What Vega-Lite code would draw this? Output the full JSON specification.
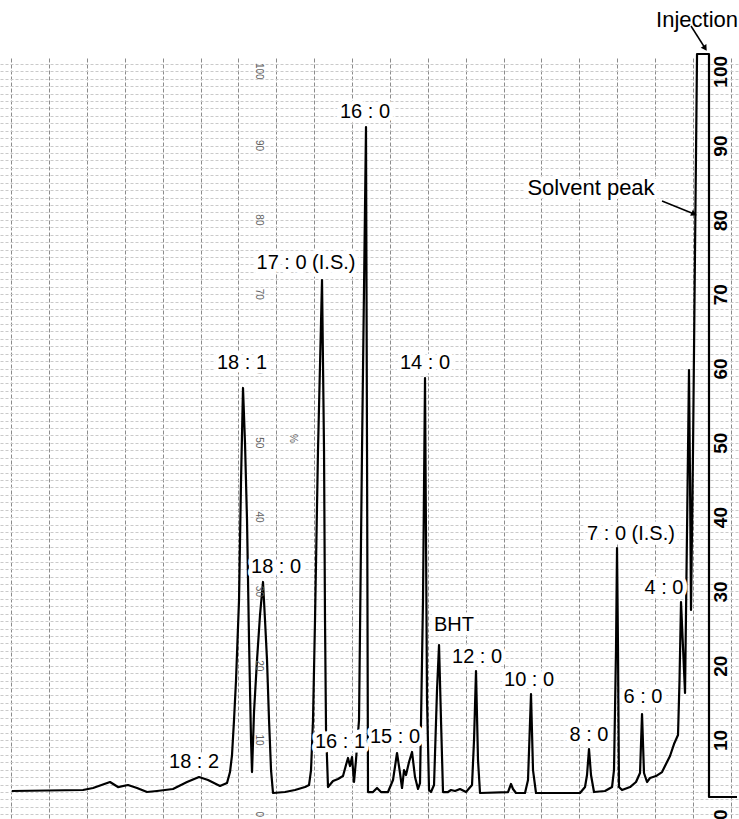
{
  "$schema": "https://vega.github.io/schema/vega-lite/v6.json",
  "width": 739,
  "height": 761,
  "autosize": {"type": "none"},
  "padding": {"top": 58, "left": 0, "right": 0, "bottom": 0},
  "background": "white",
  "config": {"view": {"stroke": null}, "font": "Liberation Sans"},
  "datasets": {
    "trace": [
      {"i":1,"t":17.978,"v":3.14},{"i":2,"t":16.104,"v":3.27},{"i":3,"t":15.839,"v":3.54},{"i":4,"t":15.391,"v":4.35},
      {"i":5,"t":15.18,"v":3.67},{"i":6,"t":14.916,"v":3.94},{"i":7,"t":14.678,"v":3.54},{"i":8,"t":14.414,"v":3.0},
      {"i":9,"t":14.15,"v":3.14},{"i":10,"t":13.728,"v":3.41},{"i":11,"t":13.358,"v":4.35},{"i":12,"t":13.041,"v":5.02},
      {"i":13,"t":12.804,"v":4.62},{"i":14,"t":12.487,"v":3.81},{"i":15,"t":12.302,"v":4.21},{"i":16,"t":12.223,"v":5.69},
      {"i":17,"t":12.17,"v":7.98},{"i":18,"t":12.117,"v":12.69},{"i":19,"t":12.064,"v":18.08},{"i":20,"t":11.985,"v":28.84},
      {"i":21,"t":11.932,"v":44.99},{"i":22,"t":11.88,"v":57.38},{"i":23,"t":11.827,"v":49.97},{"i":24,"t":11.774,"v":39.61},
      {"i":25,"t":11.721,"v":23.46},{"i":26,"t":11.668,"v":10.0},{"i":27,"t":11.642,"v":5.69},{"i":28,"t":11.589,"v":13.77},
      {"i":29,"t":11.51,"v":20.77},{"i":30,"t":11.431,"v":26.82},{"i":31,"t":11.352,"v":31.27},{"i":32,"t":11.299,"v":26.15},
      {"i":33,"t":11.246,"v":20.77},{"i":34,"t":11.193,"v":12.69},{"i":35,"t":11.14,"v":5.96},{"i":36,"t":11.088,"v":2.87},
      {"i":37,"t":10.771,"v":3.0},{"i":38,"t":10.507,"v":3.27},{"i":39,"t":10.243,"v":3.67},{"i":40,"t":10.137,"v":3.94},
      {"i":41,"t":10.084,"v":5.96},{"i":42,"t":10.032,"v":12.69},{"i":43,"t":9.979,"v":26.15},{"i":44,"t":9.9,"v":49.03},
      {"i":45,"t":9.794,"v":71.91},{"i":46,"t":9.741,"v":49.03},{"i":47,"t":9.715,"v":26.15},{"i":48,"t":9.688,"v":11.35},
      {"i":49,"t":9.636,"v":3.67},{"i":50,"t":9.504,"v":4.48},{"i":51,"t":9.372,"v":4.75},{"i":52,"t":9.24,"v":5.15},
      {"i":53,"t":9.161,"v":6.64},{"i":54,"t":9.108,"v":7.58},{"i":55,"t":9.055,"v":6.5},{"i":56,"t":9.002,"v":7.71},
      {"i":57,"t":8.949,"v":4.35},{"i":58,"t":8.897,"v":7.31},{"i":59,"t":8.817,"v":12.69},{"i":60,"t":8.738,"v":49.03},
      {"i":61,"t":8.633,"v":92.5},{"i":62,"t":8.606,"v":49.03},{"i":63,"t":8.58,"v":3.0},{"i":64,"t":8.448,"v":3.0},
      {"i":65,"t":8.342,"v":3.54},{"i":66,"t":8.237,"v":3.0},{"i":67,"t":8.052,"v":3.0},{"i":68,"t":7.92,"v":4.62},
      {"i":69,"t":7.814,"v":8.25},{"i":70,"t":7.735,"v":5.56},{"i":71,"t":7.682,"v":3.54},{"i":72,"t":7.629,"v":5.96},
      {"i":73,"t":7.577,"v":5.29},{"i":74,"t":7.497,"v":7.04},{"i":75,"t":7.418,"v":8.39},{"i":76,"t":7.339,"v":5.02},
      {"i":77,"t":7.26,"v":3.41},{"i":78,"t":7.207,"v":4.21},{"i":79,"t":7.128,"v":28.84},{"i":80,"t":7.075,"v":58.72},
      {"i":81,"t":7.022,"v":15.38},{"i":82,"t":6.969,"v":3.27},{"i":83,"t":6.917,"v":3.0},{"i":84,"t":6.837,"v":3.94},
      {"i":85,"t":6.758,"v":16.73},{"i":86,"t":6.705,"v":22.79},{"i":87,"t":6.653,"v":12.69},{"i":88,"t":6.6,"v":3.0},
      {"i":89,"t":6.468,"v":3.0},{"i":90,"t":6.389,"v":3.27},{"i":91,"t":6.283,"v":3.14},{"i":92,"t":6.151,"v":3.41},
      {"i":93,"t":5.993,"v":3.0},{"i":94,"t":5.834,"v":3.94},{"i":95,"t":5.781,"v":10.0},{"i":96,"t":5.729,"v":19.29},
      {"i":97,"t":5.676,"v":7.31},{"i":98,"t":5.623,"v":2.87},{"i":99,"t":4.884,"v":3.0},{"i":100,"t":4.805,"v":4.08},
      {"i":101,"t":4.752,"v":3.41},{"i":102,"t":4.673,"v":2.87},{"i":103,"t":4.435,"v":2.87},{"i":104,"t":4.356,"v":4.62},
      {"i":105,"t":4.277,"v":16.19},{"i":106,"t":4.224,"v":5.96},{"i":107,"t":4.145,"v":2.87},{"i":108,"t":2.983,"v":2.87},
      {"i":109,"t":2.851,"v":3.67},{"i":110,"t":2.798,"v":5.29},{"i":111,"t":2.746,"v":8.79},{"i":112,"t":2.693,"v":5.29},
      {"i":113,"t":2.614,"v":3.0},{"i":114,"t":2.323,"v":3.14},{"i":115,"t":2.138,"v":3.67},{"i":116,"t":2.086,"v":5.96},
      {"i":117,"t":2.033,"v":22.11},{"i":118,"t":2.006,"v":35.84},{"i":119,"t":1.98,"v":22.11},{"i":120,"t":1.954,"v":3.67},
      {"i":121,"t":1.874,"v":3.27},{"i":122,"t":1.663,"v":3.67},{"i":123,"t":1.505,"v":4.35},{"i":124,"t":1.399,"v":5.56},
      {"i":125,"t":1.346,"v":13.5},{"i":126,"t":1.294,"v":5.56},{"i":127,"t":1.214,"v":4.35},{"i":128,"t":1.135,"v":4.89},
      {"i":129,"t":0.977,"v":5.15},{"i":130,"t":0.818,"v":5.69},{"i":131,"t":0.713,"v":6.77},{"i":132,"t":0.607,"v":7.85},
      {"i":133,"t":0.502,"v":9.46},{"i":134,"t":0.396,"v":10.67},{"i":135,"t":0.356,"v":18.08},{"i":136,"t":0.317,"v":28.57},
      {"i":137,"t":0.211,"v":16.33},{"i":138,"t":0.132,"v":49.03},{"i":139,"t":0.106,"v":59.8},{"i":140,"t":0.079,"v":44.99},
      {"i":141,"t":0.053,"v":27.5},{"i":142,"t":0.0,"v":49.03},{"i":143,"t":-0.053,"v":75.95},{"i":144,"t":-0.106,"v":102.33},
      {"i":145,"t":-0.422,"v":102.33},{"i":146,"t":-0.422,"v":2.33},{"i":147,"t":-1.162,"v":2.33}
    ],
    "peaks": [
      {"t":8.659,"v":94.53,"label":"16 : 0"},
      {"t":10.217,"v":74.2,"label":"17 : 0 (I.S.)"},
      {"t":11.906,"v":60.74,"label":"18 : 1"},
      {"t":7.075,"v":60.74,"label":"14 : 0"},
      {"t":11.008,"v":33.29,"label":"18 : 0"},
      {"t":6.309,"v":25.48,"label":"BHT"},
      {"t":5.702,"v":21.17,"label":"12 : 0"},
      {"t":4.329,"v":18.08,"label":"10 : 0"},
      {"t":2.746,"v":10.67,"label":"8 : 0"},
      {"t":1.637,"v":37.73,"label":"7 : 0 (I.S.)"},
      {"t":1.32,"v":15.79,"label":"6 : 0"},
      {"t":0.766,"v":30.46,"label":"4 : 0"},
      {"t":7.867,"v":10.4,"label":"15 : 0"},
      {"t":9.319,"v":9.73,"label":"16 : 1"},
      {"t":13.173,"v":7.04,"label":"18 : 2"}
    ],
    "notes": [
      {"t":-0.106,"v":106.9,"label":"Injection"},
      {"t":2.693,"v":84.3,"label":"Solvent peak"}
    ],
    "arrows": [
      {"name":"inj","t":0.053,"v":106.1,"t2":-0.32,"v2":103.1},
      {"name":"solv","t":0.818,"v":82.54,"t2":-0.03,"v2":80.8}
    ],
    "paper": [
      {"t":11.46,"v":0,"lab":"0"},{"t":11.46,"v":10,"lab":"10"},{"t":11.46,"v":20,"lab":"20"},{"t":11.46,"v":30,"lab":"30"},
      {"t":11.46,"v":40,"lab":"40"},{"t":11.46,"v":50,"lab":"50"},{"t":11.46,"v":60,"lab":"60"},{"t":11.46,"v":70,"lab":"70"},
      {"t":11.46,"v":80,"lab":"80"},{"t":11.46,"v":90,"lab":"90"},{"t":11.46,"v":100,"lab":"100"},
      {"t":10.56,"v":50.6,"lab":"%"}
    ]
  },
  "encoding": {
    "x": {"field": "t", "type": "quantitative",
      "scale": {"domain": [-1.214, 18.295], "reverse": true, "nice": false, "zero": false},
      "axis": {"title": null, "labels": false, "ticks": false, "domain": false, "grid": true,
        "values": [-1,0,1,2,3,4,5,6,7,8,9,10,11,12,13,14,15,16,17,18],
        "gridColor": "#8c8c8c", "gridDash": [4,2], "gridWidth": 1, "gridOpacity": 1}},
    "y": {"field": "v", "type": "quantitative",
      "scale": {"domain": [-0.63, 101.79], "nice": false, "zero": false},
      "axis": {"title": null, "orient": "right", "offset": -30, "domain": false, "ticks": false, "tickSize": 0,
        "values": [0,1,2,3,4,5,6,7,8,9,10,11,12,13,14,15,16,17,18,19,20,21,22,23,24,25,26,27,28,29,30,31,32,33,34,35,36,37,38,39,40,41,42,43,44,45,46,47,48,49,50,51,52,53,54,55,56,57,58,59,60,61,62,63,64,65,66,67,68,69,70,71,72,73,74,75,76,77,78,79,80,81,82,83,84,85,86,87,88,89,90,91,92,93,94,95,96,97,98,99,100,101],
        "labelExpr": "datum.value % 10 === 0 ? datum.label : ''",
        "labelOverlap": false, "labelBound": false, "labelFlush": false,
        "labelAngle": 270, "labelAlign": "center", "labelBaseline": "middle", "labelPadding": 11,
        "labelFont": "Liberation Sans", "labelFontSize": 19, "labelFontWeight": "bold", "labelColor": "black",
        "grid": true, "gridColor": "#cacaca", "gridDash": [3,2], "gridWidth": 1, "gridOpacity": 1}}
  },
  "layer": [
    {
      "data": {"name": "trace"},
      "mark": {"type": "line", "color": "black", "strokeWidth": 2.2, "interpolate": "linear", "strokeJoin": "round"},
      "encoding": {"order": {"field": "i", "type": "quantitative"}}
    },
    {
      "data": {"name": "paper"},
      "mark": {"type": "text", "angle": 90, "fontSize": 10, "color": "#5e5e5e", "align": "center", "baseline": "middle"},
      "encoding": {"text": {"field": "lab"}}
    },
    {
      "data": {"name": "peaks"},
      "mark": {"type": "text", "fontSize": 20, "color": "white", "stroke": "white", "strokeWidth": 9, "strokeJoin": "round", "align": "center", "baseline": "middle"},
      "encoding": {"text": {"field": "label"}}
    },
    {
      "data": {"name": "peaks"},
      "mark": {"type": "text", "fontSize": 20, "color": "black", "align": "center", "baseline": "middle"},
      "encoding": {"text": {"field": "label"}}
    },
    {
      "data": {"name": "notes"},
      "mark": {"type": "text", "fontSize": 22, "color": "white", "stroke": "white", "strokeWidth": 9, "strokeJoin": "round", "align": "center", "baseline": "middle"},
      "encoding": {"text": {"field": "label"}}
    },
    {
      "data": {"name": "notes"},
      "mark": {"type": "text", "fontSize": 22, "color": "black", "align": "center", "baseline": "middle"},
      "encoding": {"text": {"field": "label"}}
    },
    {
      "data": {"name": "arrows"},
      "mark": {"type": "rule", "color": "black", "strokeWidth": 1.5},
      "encoding": {
        "x2": {"field": "t2"},
        "y2": {"field": "v2"}
      }
    },
    {
      "data": {"name": "arrows"},
      "transform": [{"filter": "datum.name === 'inj'"}],
      "mark": {"type": "point", "shape": "triangle-right", "angle": 57, "filled": true, "color": "black", "size": 45, "opacity": 1},
      "encoding": {
        "x": {"field": "t2", "type": "quantitative", "scale": {"domain": [-1.214, 18.295], "reverse": true, "nice": false, "zero": false}},
        "y": {"field": "v2", "type": "quantitative", "scale": {"domain": [-0.63, 101.79], "nice": false, "zero": false}}
      }
    },
    {
      "data": {"name": "arrows"},
      "transform": [{"filter": "datum.name === 'solv'"}],
      "mark": {"type": "point", "shape": "triangle-right", "angle": 24, "filled": true, "color": "black", "size": 45, "opacity": 1},
      "encoding": {
        "x": {"field": "t2", "type": "quantitative", "scale": {"domain": [-1.214, 18.295], "reverse": true, "nice": false, "zero": false}},
        "y": {"field": "v2", "type": "quantitative", "scale": {"domain": [-0.63, 101.79], "nice": false, "zero": false}}
      }
    }
  ]
}
